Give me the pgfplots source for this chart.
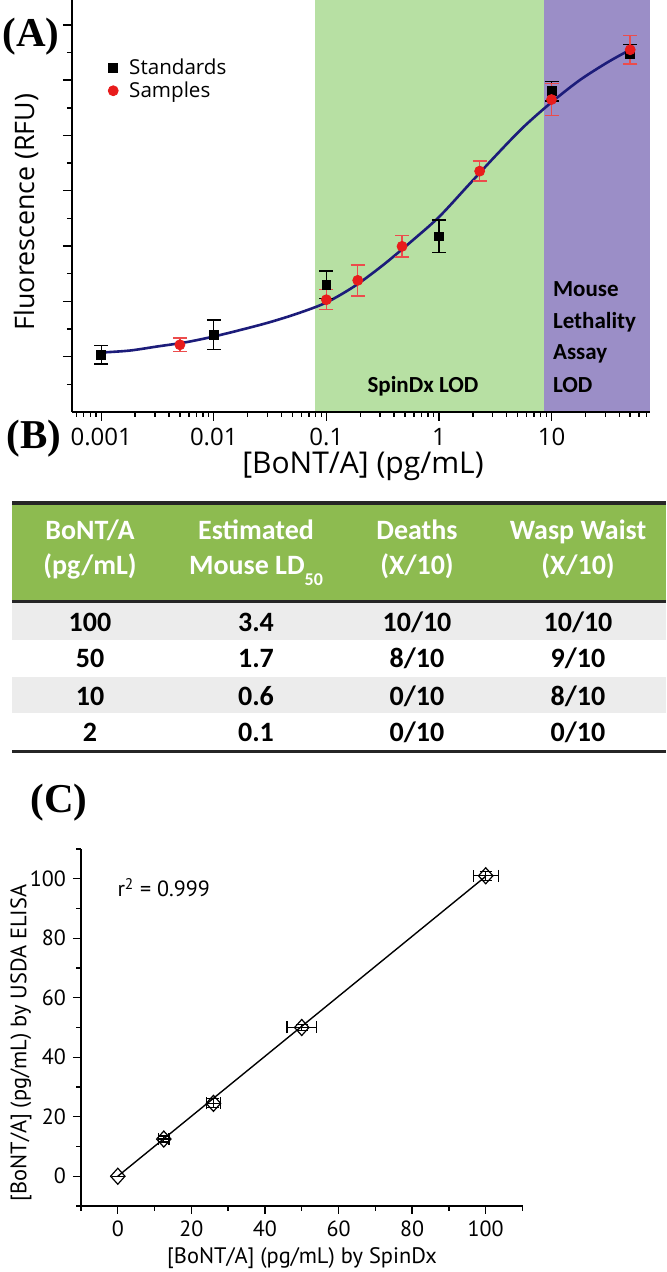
\documentclass[border=0pt]{standalone}
\usepackage{fontspec}
\setmainfont{Open Sans}
\newfontfamily\ptsans{PT Sans}
\newfontfamily\calib{Carlito}
\newfontfamily\panelfont{Liberation Serif}
\usepackage{pgfplots}
\usepackage{pgfplotstable}
\pgfplotsset{compat=1.18}

\definecolor{spingreen}{RGB}{183,224,163}
\definecolor{mousepurple}{RGB}{155,142,199}
\definecolor{fitblue}{RGB}{28,28,122}
\definecolor{sampred}{RGB}{232,28,28}
\definecolor{errred}{RGB}{236,76,76}
\definecolor{headgreen}{RGB}{141,187,80}
\definecolor{rowgray}{RGB}{236,236,236}

% panel A: standards and samples (y in tick units, no scale shown)
\pgfplotstableread{
x      y     e
0.001  2.07  0.34
0.01   2.79  0.53
0.1    4.60  0.50
1      6.35  0.59
10     11.60 0.36
50     12.93 0.36
}\standards

\pgfplotstableread{
x      y     e
0.005  2.43  0.24
0.1    4.06  0.36
0.19   4.76  0.56
0.47   5.99  0.39
2.3    8.71  0.36
10     11.30 0.57
50     13.10 0.51
}\samples

% fitted curve
\pgfplotstableread{
x        y
0.001    2.15
0.00178  2.22
0.00316  2.37
0.00562  2.52
0.01     2.73
0.0178   2.98
0.0316   3.25
0.0562   3.57
0.1      3.96
0.178    4.55
0.316    5.30
0.562    6.15
1        7.05
1.78     8.15
3.16     9.25
5.62     10.30
10       11.20
17.8     12.00
31.6     12.65
50       13.10
}\fitcurve

% panel C
\pgfplotstableread{
x     y     ex   ey
0     0     0    0
12.5  12.5  1.4  1.0
26    24.5  1.9  1.5
50    50    4.0  1.0
100   101   3.4  1.5
}\elisa

\begin{document}
\begin{tikzpicture}[x=0.5pt,y=0.5pt]

%% ---------- (A) ----------
\begin{axis}[
  at={(36pt,430pt)}, anchor=south west,
  scale only axis, width=289pt, height=206pt,
  xmode=log, xmin=0.00055, xmax=75, ymin=0, ymax=14.9,
  axis x line*=bottom, axis y line*=left,
  axis line style={line width=0.8pt},
  tick align=outside, tick pos=left,
  major tick length=4.5pt, minor tick length=2.5pt,
  every tick/.style={black, line width=0.7pt},
  xtick={0.001,0.01,0.1,1,10},
  xticklabels={0.001,0.01,0.1,1,10},
  minor xtick={0.0006,0.0007,0.0008,0.0009,0.002,0.003,0.004,0.005,0.006,0.007,0.008,0.009,
    0.02,0.03,0.04,0.05,0.06,0.07,0.08,0.09,0.2,0.3,0.4,0.5,0.6,0.7,0.8,0.9,
    2,3,4,5,6,7,8,9,20,30,40,50,60,70},
  ytick={2,4,...,14}, minor ytick={1,3,...,13}, yticklabels={},
  xticklabel style={font=\fontsize{12}{12}\selectfont},
  axis on top,
  legend style={at={(0.062,0.868)}, anchor=north west, draw=none, fill=none,
    font=\fontsize{10.3}{11}\selectfont, inner sep=0pt, row sep=-2pt},
  legend cell align=left,
]
\addplot[fill=spingreen, draw=none, forget plot] coordinates {(0.08,14.9) (8.5,14.9)} \closedcycle;
\addplot[fill=mousepurple, draw=none, forget plot] coordinates {(8.5,14.9) (75,14.9)} \closedcycle;
\addplot[fitblue, line width=1.3pt, smooth, no marks, forget plot] table[x=x,y=y] {\fitcurve};
\addplot[only marks, mark=square*, mark size=2.2pt, black, forget plot,
  error bars/.cd, y dir=both, y explicit,
  error bar style={line width=0.7pt, black},
  error mark options={rotate=90, mark size=3.5pt, line width=0.7pt, black}]
  table[x=x, y=y, y error=e] {\standards};
\addplot[only marks, mark=*, mark size=2.5pt, sampred, forget plot,
  error bars/.cd, y dir=both, y explicit,
  error bar style={line width=0.7pt, errred},
  error mark options={rotate=90, mark size=3.5pt, line width=0.7pt, errred}]
  table[x=x, y=y, y error=e] {\samples};
\addlegendimage{only marks, mark=square*, mark size=2.2pt, black}
\addlegendentry{\hspace{3.5pt}Standards}
\addlegendimage{only marks, mark=*, mark size=2.5pt, sampred}
\addlegendentry{\hspace{3.5pt}Samples}
\end{axis}

\node[font=\calib\bfseries\fontsize{11.5}{12}\selectfont, anchor=base] at (423,879) {SpinDx LOD};
\node[font=\calib\bfseries\fontsize{11.5}{12}\selectfont, anchor=base west] at (546,975) {Mouse};
\node[font=\calib\bfseries\fontsize{11.5}{12}\selectfont, anchor=base west] at (546,943) {Lethality};
\node[font=\calib\bfseries\fontsize{11.5}{12}\selectfont, anchor=base west] at (546,912) {Assay};
\node[font=\calib\bfseries\fontsize{11.5}{12}\selectfont, anchor=base west] at (546,879) {LOD};

\node[font=\fontsize{15}{15}\selectfont] at (363,806) {[BoNT/A] (pg/mL)};
\node[font=\fontsize{13.4}{13}\selectfont, rotate=90] at (26,1060) {Fluorescence (RFU)};

\node[font=\panelfont\bfseries\fontsize{20.5}{20}\selectfont] at (31,1235) {(A)};
\node[font=\panelfont\bfseries\fontsize{20.5}{20}\selectfont] at (34,833) {(B)};
\node[font=\panelfont\bfseries\fontsize{20.5}{20}\selectfont] at (59,469) {(C)};

%% ---------- (B) table ----------
\fill[headgreen] (12,671) rectangle (666,769);
\fill[rowgray] (12,632) rectangle (666,669);
\fill[rowgray] (12,559) rectangle (666,595);
\draw[line width=2pt, black!85] (12,769) -- (666,769);
\draw[line width=1.5pt, black!85] (12,670) -- (666,670);
\draw[line width=1.5pt, black!85] (12,520) -- (666,520);

\begin{scope}[every node/.style={font=\calib\bfseries\fontsize{14}{14}\selectfont, anchor=base}]
\node[white] at (90,732) {BoNT/A};
\node[white] at (90,697) {(pg/mL)};
\node[white] at (256,732) {Estimated};
\node[white] at (256,697) {Mouse LD\raisebox{-0.75ex}{\fontsize{9}{9}\selectfont 50}};
\node[white] at (417,732) {Deaths};
\node[white] at (417,697) {(X/10)};
\node[white] at (578,732) {Wasp Waist};
\node[white] at (578,697) {(X/10)};

\node at (90,640) {100};  \node at (256,640) {3.4}; \node at (417,640) {10/10}; \node at (578,640) {10/10};
\node at (90,604) {50};   \node at (256,604) {1.7}; \node at (417,604) {8/10};  \node at (578,604) {9/10};
\node at (90,566) {10};   \node at (256,566) {0.6}; \node at (417,566) {0/10};  \node at (578,566) {8/10};
\node at (90,530) {2};    \node at (256,530) {0.1}; \node at (417,530) {0/10};  \node at (578,530) {0/10};
\end{scope}

%% ---------- (C) ----------
\begin{axis}[
  at={(40.5pt,33pt)}, anchor=south west,
  scale only axis, width=220.75pt, height=178.5pt,
  xmin=-10, xmax=110, ymin=-10, ymax=110,
  axis x line*=bottom, axis y line*=left,
  axis line style={line width=0.8pt},
  tick align=outside, tick pos=left,
  major tick length=4pt, minor tick length=2.3pt,
  every tick/.style={black, line width=0.7pt},
  xtick={0,20,...,100}, minor xtick={-10,10,...,110},
  ytick={0,20,...,100}, minor ytick={-10,10,...,110},
  /pgf/number format/assume math mode=true,
  ticklabel style={font=\ptsans\fontsize{11}{11}\selectfont},
]
\addplot[black, line width=0.7pt, no marks] coordinates {(0,0) (100,100.8)};
\addplot[only marks, mark=diamond, mark size=4pt,
  mark options={fill=white, line width=0.6pt, xscale=1.2}, black,
  error bars/.cd, x dir=both, x explicit, y dir=both, y explicit,
  error bar style={line width=0.6pt, black},
  error mark options={rotate=90, mark size=3pt, line width=0.6pt, black}]
  table[x=x, y=y, x error=ex, y error=ey] {\elisa};
\node[font=\ptsans\fontsize{11}{11}\selectfont, anchor=west] at (axis cs:-2,97) {r\textsuperscript{2} = 0.999};
\end{axis}

\node[font=\ptsans\fontsize{11.2}{11}\selectfont] at (302,14) {[BoNT/A] (pg/mL) by SpinDx};
\node[font=\ptsans\fontsize{11.2}{11}\selectfont, rotate=90] at (21,229) {[BoNT/A] (pg/mL) by USDA ELISA};

\pgfresetboundingbox
\path[use as bounding box] (0,0) rectangle (666,1272);
\end{tikzpicture}
\end{document}
